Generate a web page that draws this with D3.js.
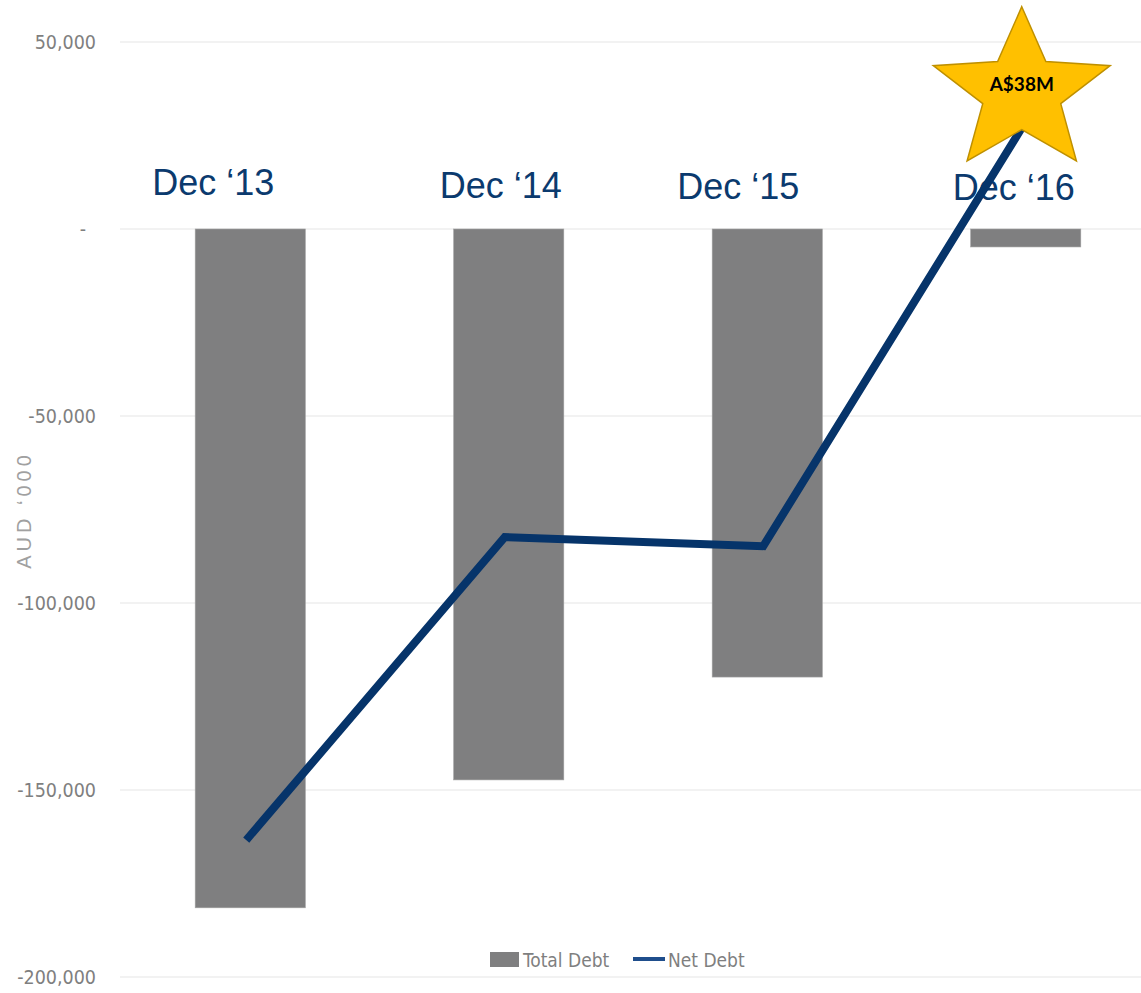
<!DOCTYPE html>
<html>
<head>
<meta charset="utf-8">
<script src="https://cdn.jsdelivr.net/npm/d3@7"></script>
<style>
  html, body { margin: 0; padding: 0; background: #fff; }
  svg { display: block; }
</style>
</head>
<body>
<svg id="chart"></svg>
<script>
// ----- Data -----
const categories = ["Dec '13", "Dec '14", "Dec '15", "Dec '16"];
const categoryLabels = ["Dec \u201813", "Dec \u201814", "Dec \u201815", "Dec \u201816"];
const totalDebt = [-181500, -147300, -119800, -4800];
const netDebt = [-163400, -82400, -84800, 27000];
const yTicks = [50000, 0, -50000, -100000, -150000, -200000];
const starLabel = "A$38M";
const seriesNames = ["Total Debt", "Net Debt"];

// ----- Layout -----
const W = 1141, H = 993;
const plot = { left: 120, right: 1141, top: 42, bottom: 977 };
const labelShift = [-37, -8, -29, -12];   // hand placed text boxes in the original
const labelBaseline = [195, 198, 199, 200];

const svg = d3.select("#chart").attr("width", W).attr("height", H);

const x = d3.scaleBand().domain(categories).range([121, 1155])
    .paddingInner(0.574).paddingOuter(0.287);
const y = d3.scaleLinear().domain([-200000, 50000]).range([plot.bottom, plot.top]);

const axisFont = "'DejaVu Sans Condensed', 'Liberation Sans Narrow', sans-serif";

// ----- Grid -----
svg.append("g")
  .selectAll("line")
  .data(yTicks)
  .join("line")
    .attr("x1", plot.left)
    .attr("x2", plot.right)
    .attr("y1", d => y(d))
    .attr("y2", d => y(d))
    .attr("stroke", "#e6e6e6")
    .attr("stroke-width", 1.2);

// ----- Y axis -----
const fmt = d3.formatLocale({ decimal: ".", thousands: ",", grouping: [3], currency: ["$", ""], minus: "-" }).format(",");
const yAxis = svg.append("g")
    .attr("transform", `translate(96,0)`)
    .call(d3.axisLeft(y).tickValues(yTicks).tickSize(0).tickPadding(0)
      .tickFormat(d => d === 0 ? "-" : fmt(d)));
yAxis.select(".domain").remove();
yAxis.selectAll("text")
    .attr("font-family", axisFont)
    .attr("font-size", 19.5)
    .attr("fill", "#7f7f7f")
    .attr("dy", "0.35em")
    .attr("dx", d => d === 0 ? -10 : 0);

svg.append("text")
    .attr("transform", "translate(31,510) rotate(-90)")
    .attr("text-anchor", "middle")
    .attr("font-family", "'Liberation Sans', Arial, sans-serif")
    .attr("font-size", 20)
    .attr("letter-spacing", 4)
    .attr("fill", "#a0a0a0")
    .text("AUD \u2018000");

// ----- Bars -----
svg.append("g")
  .selectAll("rect")
  .data(categories.map((c, i) => ({ c, v: totalDebt[i] })))
  .join("rect")
    .attr("x", d => x(d.c))
    .attr("width", x.bandwidth())
    .attr("y", d => y(Math.max(0, d.v)))
    .attr("height", d => Math.abs(y(d.v) - y(0)))
    .attr("fill", "#7f7f80")
    .attr("stroke", "#a0a0a0")
    .attr("stroke-width", 0.6);

// ----- Category labels -----
svg.append("g")
  .selectAll("text")
  .data(categories)
  .join("text")
    .attr("x", (d, i) => x(d) + x.bandwidth() / 2 + labelShift[i])
    .attr("y", (d, i) => labelBaseline[i])
    .attr("text-anchor", "middle")
    .attr("font-family", "'Liberation Sans', Arial, sans-serif")
    .attr("font-size", 36)
    .attr("fill", "#0b3a6e")
    .text((d, i) => categoryLabels[i]);

// ----- Net debt line -----
const line = d3.line()
    .x((d, i) => x(categories[i]) + x.bandwidth() / 2 - 4)
    .y(d => y(d));

svg.append("path")
    .datum(netDebt)
    .attr("fill", "none")
    .attr("stroke", "#06346a")
    .attr("stroke-width", 8)
    .attr("stroke-linejoin", "miter")
    .attr("stroke-linecap", "butt")
    .attr("d", line);

// ----- Star callout -----
const cx = x(categories[3]) + x.bandwidth() / 2 - 4, cy = 92;
const R = 93, r = 41, sy = 0.917;
const starPts = d3.range(10).map(k => {
  const a = -Math.PI / 2 + k * Math.PI / 5;
  const rad = k % 2 === 0 ? R : r;
  return [cx + rad * Math.cos(a), cy + rad * Math.sin(a) * sy];
});
svg.append("polygon")
    .attr("points", starPts.map(p => p.join(",")).join(" "))
    .attr("fill", "#ffc000")
    .attr("stroke", "#bf9000")
    .attr("stroke-width", 1.5);
svg.append("text")
    .attr("x", cx)
    .attr("y", 91)
    .attr("text-anchor", "middle")
    .attr("font-family", "Lato, 'Liberation Sans', sans-serif")
    .attr("font-weight", "bold")
    .attr("font-size", 19)
    .attr("fill", "#000")
    .text(starLabel);

// ----- Legend -----
const legend = svg.append("g").attr("font-family", axisFont)
    .attr("font-size", 19).attr("fill", "#7f7f7f");
legend.append("rect")
    .attr("x", 490).attr("y", 952).attr("width", 29).attr("height", 15)
    .attr("fill", "#7f7f80");
legend.append("text").attr("x", 523).attr("y", 967).text(seriesNames[0]);
legend.append("line")
    .attr("x1", 633).attr("x2", 665).attr("y1", 959).attr("y2", 959)
    .attr("stroke", "#1f4e8c").attr("stroke-width", 4);
legend.append("text").attr("x", 668).attr("y", 967).text(seriesNames[1]);
</script>
</body>
</html>
